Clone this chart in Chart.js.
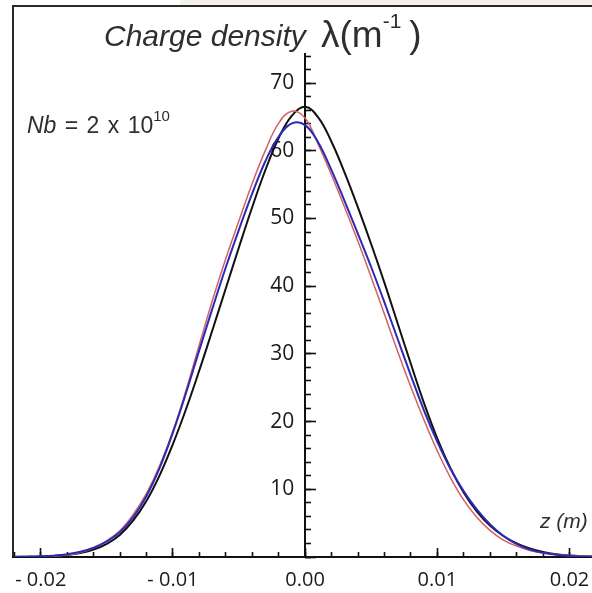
<!DOCTYPE html>
<html>
<head>
<meta charset="utf-8">
<script src="https://cdn.jsdelivr.net/npm/chart.js@4.4.1/dist/chart.umd.min.js"></script>
<style>
html, body { margin: 0; padding: 0; background: #fff; }
#wrap { position: relative; width: 592px; height: 593px; overflow: hidden; }
#c { position: absolute; left: 0; top: 0; }
.t { position: absolute; white-space: nowrap; line-height: 1; color: #2e2e2e; font-family: 'Liberation Sans', Arial, sans-serif; }
.sup { position: relative; }
</style>
</head>
<body>
<div id="wrap">
  <div style="position:absolute;left:180px;top:0;width:412px;height:5px;background:#f6f2e8"></div>
  <div style="position:absolute;left:12px;top:5px;width:590px;height:553px;border-left:2px solid #2a2a2a;border-top:2px solid #2a2a2a;box-sizing:border-box"></div>
  <canvas id="c" width="592" height="593"></canvas>
  <div class="t" style="left:104px;top:21px;font-size:30px;font-style:italic">Charge density</div>
  <div class="t" style="left:321px;top:16px;font-size:37px">λ(m<span class="sup" style="font-size:21px;top:-19px;margin-right:8px">-1</span>)</div>
  <div class="t" style="left:27px;top:114px;font-size:23px;word-spacing:2px"><i>Nb</i> = 2 x 10<span class="sup" style="font-size:15px;top:-12px">10</span></div>
  <div class="t" style="left:540px;top:510px;font-size:21px;font-style:italic">z (m)</div>
</div>
<script>
// Longitudinal position z (m)
const zValues = [
  -0.022, -0.021, -0.020, -0.019, -0.018, -0.017, -0.016, -0.015, -0.014, -0.013, -0.012,
  -0.011, -0.010, -0.009, -0.008, -0.007, -0.006, -0.005, -0.004, -0.003, -0.002, -0.001,
  0.000,
  0.001, 0.002, 0.003, 0.004, 0.005, 0.006, 0.007, 0.008, 0.009, 0.010, 0.011,
  0.012, 0.013, 0.014, 0.015, 0.016, 0.017, 0.018, 0.019, 0.020, 0.021, 0.022
];
// Charge density lambda (1/m), black curve
const lambdaBlack = [
  0.01, 0.03, 0.07, 0.15, 0.3, 0.6, 1.1, 1.95, 3.3, 5.4, 8.3,
  12.1, 16.7, 21.9, 27.6, 33.6, 39.7, 45.8, 51.7, 57.2, 61.9, 65.2,
  66.5,
  64.9, 61.3, 56.7, 51.6, 46.2, 40.5, 34.5, 28.5, 22.7, 17.5, 13.1,
  9.5, 6.7, 4.6, 3.1, 2.0, 1.25, 0.75, 0.42, 0.22, 0.11, 0.05
];
// red curve
const lambdaRed = [
  0.015, 0.03, 0.06, 0.12, 0.28, 0.66, 1.33, 2.4, 3.9, 6.3, 9.4,
  13.5, 18.6, 24.7, 31.4, 38.0, 44.1, 49.7, 55.2, 60.1, 64.1, 65.85,
  64.8,
  60.9, 56.4, 51.6, 46.6, 41.3, 35.85, 30.35, 25.1, 20.2, 15.65, 11.7,
  8.4, 5.85, 3.9, 2.5, 1.6, 0.96, 0.58, 0.37, 0.22, 0.13, 0.08
];
// blue curve
const lambdaBlue = [
  0.025, 0.05, 0.1, 0.2, 0.4, 0.77, 1.37, 2.3, 3.7, 5.9, 9.0,
  13.2, 18.4, 24.3, 30.6, 36.8, 42.8, 48.4, 53.7, 58.5, 62.1, 64.05,
  63.8,
  61.2, 57.1, 52.5, 47.7, 42.8, 37.6, 32.2, 26.8, 21.6, 17.0, 13.0,
  9.7, 7.0, 4.8, 3.1, 1.9, 1.1, 0.61, 0.32, 0.16, 0.08, 0.04
];
// Axis ticks
const xMajorStep = 0.01, xMinorStep = 0.002;
const yMajorStep = 10, yMinorStep = 2;
const yTickLabels = [10, 20, 30, 40, 50, 60, 70];
const X_MIN = -0.0221, X_MAX = 0.0217, Y_MIN = 0, Y_MAX = 74.3;

function pts(arr) { return zValues.map((z, i) => ({ x: z, y: arr[i] })); }
function zeroPad(s) { s.paddingLeft = 0; s.paddingRight = 0; s.paddingTop = 0; s.paddingBottom = 0; }
function fmtX(v) {
  const r = Math.round(v * 100) / 100;
  if (Math.abs(r) < 1e-9) return '0.00';
  return r < 0 ? '- ' + Math.abs(r).toFixed(2) : r.toFixed(2);
}
const labelFont = { family: "'Open Sans', 'DejaVu Sans', sans-serif", size: 20 };
const yLabelFont = { family: "'Open Sans', 'DejaVu Sans', sans-serif", size: 21 };

function tickAxis(axis, pos, min, max, step, len) {
  return {
    type: 'linear', axis: axis, position: pos, min: min, max: max, afterFit: zeroPad,
    ticks: { stepSize: step, includeBounds: false, display: false },
    grid: { display: true, drawOnChartArea: false, drawTicks: true, tickLength: len, tickWidth: 1.6, tickColor: '#111' },
    border: { display: false }
  };
}

new Chart(document.getElementById('c').getContext('2d'), {
  type: 'line',
  data: {
    datasets: [
      { label: 'black', data: pts(lambdaBlack), borderColor: '#111111', borderWidth: 2, order: 3 },
      { label: 'red', data: pts(lambdaRed), borderColor: '#d46060', borderWidth: 1.5, order: 2 },
      { label: 'blue', data: pts(lambdaBlue), borderColor: '#2a2ab8', borderWidth: 2, order: 1 }
    ]
  },
  options: {
    responsive: false,
    animation: false,
    devicePixelRatio: 1,
    layout: { padding: { left: 13, top: 54, right: 0, bottom: 36 } },
    plugins: { legend: { display: false }, tooltip: { enabled: false }, title: { display: false } },
    elements: { point: { radius: 0 }, line: { tension: 0.4, fill: false } },
    scales: {
      x: {
        type: 'linear', position: { y: 0 }, min: X_MIN, max: X_MAX, afterFit: zeroPad,
        ticks: { stepSize: xMajorStep, includeBounds: false, padding: 3, font: labelFont, color: '#1a1a1a',
                 maxRotation: 0, autoSkip: false, callback: (v) => fmtX(v) },
        grid: { display: false },
        border: { display: true, color: '#111', width: 2 }
      },
      y: {
        type: 'linear', position: { x: 0 }, min: Y_MIN, max: Y_MAX, afterFit: zeroPad,
        ticks: { stepSize: yMajorStep, includeBounds: false, font: yLabelFont, color: '#1a1a1a', autoSkip: false,
                 callback: (v) => (yTickLabels.includes(v) ? v + '  ' : '') },
        grid: { display: false },
        border: { display: true, color: '#111', width: 2 }
      },
      xMinor: tickAxis('x', { y: 0 }, X_MIN, X_MAX, xMinorStep, -5),
      xMajor: tickAxis('x', { y: 0 }, X_MIN, X_MAX, xMajorStep, -9),
      yMinor: tickAxis('y', { x: 0 }, Y_MIN, Y_MAX, yMinorStep, -6),
      yMajor: tickAxis('y', { x: 0 }, Y_MIN, Y_MAX, yMajorStep, -11)
    }
  }
});
</script>
</body>
</html>
